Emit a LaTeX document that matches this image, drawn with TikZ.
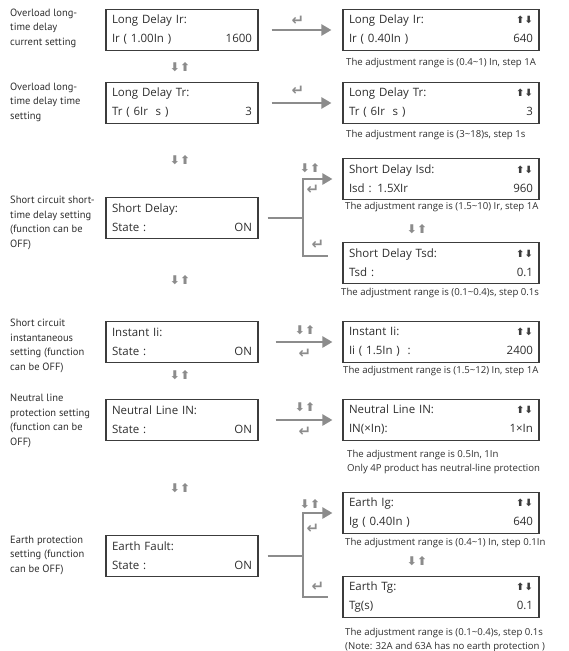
\documentclass[tikz,border=0pt]{standalone}
\usepackage{fontspec}
\setmainfont{Open Sans}
\newfontfamily\labelfont{PT Sans}
\newfontfamily\symbfont{DejaVu Sans}
\usetikzlibrary{arrows.meta}

\definecolor{linegray}{HTML}{8C8C8C}
\definecolor{framegray}{HTML}{3C3C3C}
\definecolor{textgray}{HTML}{2E2E2E}

\newcommand\boxarrows{{\symbfont\bfseries\fontsize{10}{10}\selectfont\color{framegray}⬆⬇}}

\tikzset{
  lcd/.style={draw=framegray, line width=1.1pt, rectangle, minimum height=41pt,
    text width=#1, inner xsep=6pt, inner ysep=2pt, align=left,
    font=\fontsize{11.5}{19}\selectfont, text=textgray},
  lcd/.default=140pt,
  conn/.style={draw=linegray, line width=2.4pt},
  connarrow/.style={conn, -{Triangle[length=10pt,width=11pt]}},
  updown/.style={font=\symbfont\bfseries\fontsize{12}{12}\selectfont, text=linegray, inner sep=0pt},
  enter/.style={font=\symbfont\bfseries\fontsize{15}{15}\selectfont, text=linegray, inner sep=0pt},
  label/.style={font=\labelfont\fontsize{10.5}{14.5}\selectfont, align=left, anchor=west, text=textgray, inner sep=0pt},
  note/.style={font=\fontsize{9.6}{14}\selectfont, align=left, anchor=west, text=textgray, inner sep=0pt}
}

\begin{document}
\begin{tikzpicture}[x=1pt,y=-1pt]
  \useasboundingbox (0,0) rectangle (569,651);

  % left column: menu entries
  \node[label] (ldirlabel) at (10,28) {Overload long-\\time delay\\current setting};
  \node[label] (ldtrlabel) at (10,102) {Overload long-\\time delay time\\setting};
  \node[label] (sdlabel) at (10,223) {Short circuit short-\\time delay setting\\(function can be\\OFF)};
  \node[label] (iilabel) at (10,346) {Short circuit\\instantaneous\\setting (function\\can be OFF)};
  \node[label] (nllabel) at (10,421) {Neutral line\\protection setting\\(function can be\\OFF)};
  \node[label] (eflabel) at (10,555) {Earth protection\\setting (function\\can be OFF)};

  \node[lcd] (ldir) at (182,30) {Long Delay Ir:\\Ir ( 1.00In )\hfill 1600};
  \node[lcd] (ldtr) at (182,103) {Long Delay Tr:\\Tr ( 6Ir~~s )\hfill 3};
  \node[lcd] (sd) at (182,218) {Short Delay:\\State :\hfill ON};
  \node[lcd] (ii) at (182,342) {Instant Ii:\\State :\hfill ON};
  \node[lcd] (nl) at (182,420) {Neutral Line IN:\\State :\hfill ON};
  \node[lcd] (ef) at (182,556) {Earth Fault:\\State :\hfill ON};

  \node[updown] (ud1) at (180,67) {⬇⬆};
  \node[updown] (ud2) at (180,160) {⬇⬆};
  \node[updown] (ud3) at (180,280) {⬇⬆};
  \node[updown] (ud4) at (180,375) {⬇⬆};
  \node[updown] (ud5) at (180,488) {⬇⬆};

  % right column: setting screens
  \node[lcd=184pt] (rdir) at (441,30) {Long Delay Ir:\hfill\boxarrows\\Ir ( 0.40In )\hfill 640};
  \node[note] (rdirnote) at (346,63) {The adjustment range is (0.4\textasciitilde1) In, step 1A};
  \node[lcd=184pt] (rdtr) at (441,103) {Long Delay Tr:\hfill\boxarrows\\Tr ( 6Ir~~s )\hfill 3};
  \node[note] (rdtrnote) at (346,135) {The adjustment range is (3\textasciitilde18)s, step 1s};

  \node[lcd=184pt] (sdisd) at (441,179) {Short Delay Isd:\hfill\boxarrows\\Isd : 1.5XIr\hfill 960};
  \node[note] (sdisdnote) at (345,207) {The adjustment range is (1.5\textasciitilde10) Ir, step 1A};
  \node[updown] (ud6) at (417,229) {⬇⬆};
  \node[lcd=184pt] (sdtsd) at (441,263) {Short Delay Tsd:\hfill\boxarrows\\Tsd :\hfill 0.1};
  \node[note] (sdtsdnote) at (341,293) {The adjustment range is (0.1\textasciitilde0.4)s, step 0.1s};

  \node[lcd=184pt] (rii) at (441,342) {Instant Ii:\hfill\boxarrows\\Ii ( 1.5In )~~:\hfill 2400};
  \node[note] (riinote) at (343,371) {The adjustment range is (1.5\textasciitilde12) In, step 1A};

  \node[lcd=184pt] (rnl) at (441,420) {Neutral Line IN:\hfill\boxarrows\\IN(×In):\hfill 1×In};
  \node[note] (rnlnote) at (347,462) {The adjustment range is 0.5In, 1In\\Only 4P product has neutral-line protection};

  \node[lcd=184pt] (egi) at (441,513) {Earth Ig:\hfill\boxarrows\\Ig ( 0.40In )\hfill 640};
  \node[note] (eginote) at (345,543) {The adjustment range is (0.4\textasciitilde1) In, step 0.1In};
  \node[updown] (ud7) at (417,561) {⬇⬆};
  \node[lcd=184pt] (egt) at (441,597) {Earth Tg:\hfill\boxarrows\\Tg(s)\hfill 0.1};
  \node[note] (egtnote) at (345,640) {The adjustment range is (0.1\textasciitilde0.4)s, step 0.1s\\(Note: 32A and 63A has no earth protection )};

  % connectors
  \draw[connarrow] ([xshift=13pt]ldir.east) -- ([xshift=-11pt]rdir.west);
  \node[enter] (ldirret) at (298,21) {↵};
  \draw[connarrow] ([xshift=13pt]ldtr.east) -- ([xshift=-11pt]rdtr.west);
  \node[enter] (ldtrret) at (298,91) {↵};

  \coordinate (sdfork) at (303,218);
  \draw[conn] ([xshift=9pt]sd.east) -- (sdfork);
  \draw[connarrow] (sdfork) |- ([xshift=-10pt]sdisd.west);
  \draw[conn] (sdfork) |- ([xshift=-14pt,yshift=7pt]sdtsd.west);
  \node[updown] (sdud) at (310,168) {⬇⬆};
  \node[enter] (sdret) at (313,190) {↵};
  \node[enter] (sdtret) at (318,245) {↵};

  \draw[connarrow] ([xshift=17pt]ii.east) -- ([xshift=-10pt]rii.west);
  \node[updown] (iiud) at (305,330) {⬇⬆};
  \node[enter] (iiret) at (305,354) {↵};

  \draw[connarrow] ([xshift=17pt]nl.east) -- ([xshift=-10pt]rnl.west);
  \node[updown] (nlud) at (305,407) {⬇⬆};
  \node[enter] (nlret) at (305,432) {↵};

  \coordinate (efork) at (303,556);
  \draw[conn] ([xshift=9pt]ef.east) -- (efork);
  \draw[connarrow] (efork) |- ([xshift=-10pt]egi.west);
  \draw[conn] (efork) |- ([xshift=-14pt]egt.west);
  \node[updown] (efud) at (310,504) {⬇⬆};
  \node[enter] (efret) at (313,529) {↵};
  \node[enter] (egtret) at (318,587) {↵};

\end{tikzpicture}
\end{document}
